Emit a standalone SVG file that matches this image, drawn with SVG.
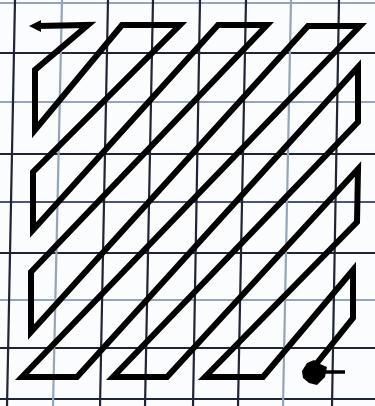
<svg xmlns="http://www.w3.org/2000/svg" width="375" height="406" viewBox="0 0 375 406">
  <style>
    .dark { stroke: #1f2536; stroke-width: 2.2; }
    .light { stroke: #93a5bb; stroke-width: 2.2; }
    .mid { stroke: #4a5670; stroke-width: 2; }
    .zz { fill: none; stroke: #000; stroke-width: 6; stroke-linejoin: miter; stroke-miterlimit: 6; }
  </style>
  <rect x="0" y="0" width="375" height="406" fill="#fbfcfd"/>
  <g id="grid">
    <line class="light" x1="0" y1="3" x2="375" y2="3"/>
    <line class="dark" x1="0" y1="53" x2="375" y2="53"/>
    <line class="light" x1="0" y1="102" x2="375" y2="102"/>
    <line class="dark" x1="0" y1="154" x2="375" y2="154"/>
    <line class="mid" x1="0" y1="202" x2="375" y2="202"/>
    <line class="dark" x1="0" y1="253" x2="375" y2="253"/>
    <line class="light" x1="0" y1="300" x2="375" y2="300"/>
    <line class="dark" x1="0" y1="348" x2="375" y2="348"/>
    <line class="dark" x1="0" y1="399" x2="375" y2="399"/>
    <line class="dark" x1="15" y1="0" x2="7" y2="406"/>
    <line class="light" x1="62" y1="0" x2="53" y2="406"/>
    <line class="dark" x1="108" y1="0" x2="100" y2="406"/>
    <line class="dark" x1="153" y1="0" x2="145" y2="406"/>
    <line class="dark" x1="200" y1="0" x2="193" y2="406"/>
    <line class="dark" x1="246" y1="0" x2="238" y2="406"/>
    <line class="light" x1="291" y1="0" x2="283" y2="406"/>
    <line class="dark" x1="339" y1="0" x2="332" y2="406"/>
  </g>
  <g id="zigzag">
    <polyline class="zz" points="38,26 88,25 35,70 35,130 122,25 180,25 33,172 33,230 218,25 267,25 31,272 31,332 308,26 360,26 22,377 77,377 358,67 358,122 113,377 167,377 358,169 357,222 205,377 263,377 353,270 353,318 313,368"/>
    <polygon points="29,26 41,20 41,32" fill="#000"/>
    <line x1="313" y1="372" x2="345" y2="372" stroke="#000" stroke-width="3.5"/>
    <polygon points="302,371 307,363 314,360 320,364 327,367 325,377 317,385 309,383 303,378" fill="#000"/>
  </g>
</svg>
